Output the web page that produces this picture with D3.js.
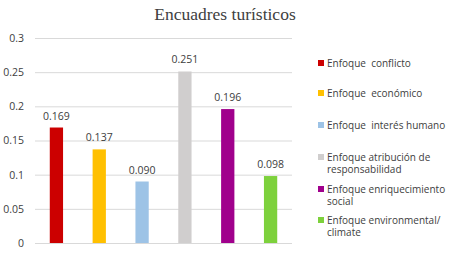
<!DOCTYPE html>
<html><head><meta charset="utf-8">
<script src="https://cdn.jsdelivr.net/npm/d3@7/dist/d3.min.js"></script>
<style>body{margin:0;background:#fff}svg{display:block}</style>
</head><body>
<svg id="c" width="449" height="255"></svg>
<script>
const categories = ["Enfoque  conflicto","Enfoque  económico","Enfoque  interés humano","Enfoque atribución de responsabilidad","Enfoque enriquecimiento social","Enfoque environmental/ climate"];
const legendLines = [["Enfoque  conflicto"],["Enfoque  económico"],["Enfoque  interés humano"],["Enfoque atribución de","responsabilidad"],["Enfoque enriquecimiento","social"],["Enfoque environmental/","climate"]];
const values = [0.169,0.137,0.090,0.251,0.196,0.098];
const valueLabels = ["0.169","0.137","0.090","0.251","0.196","0.098"];
const colors = ["#cc0000","#ffc000","#9dc3e6","#d0cece","#a0008c","#7dd13c"];
const yTicks = [0,0.05,0.1,0.15,0.2,0.25,0.3];
const yTickLabels = ["0","0.05","0.1","0.15","0.2","0.25","0.3"];

const svg = d3.select("#c");
const font = "'Open Sans', 'Liberation Sans', sans-serif";
const x = d3.scaleBand().domain(categories).range([35,292]).paddingInner(0.69).paddingOuter(0.345);
const y = d3.scaleLinear().domain([0,0.3]).range([243,38]);

svg.append("text").attr("x",225).attr("y",20).attr("text-anchor","middle")
  .attr("font-family","'Liberation Serif', 'DejaVu Serif', serif").attr("font-size",17.5).attr("fill","#404040")
  .text("Encuadres turísticos");

const g = svg.append("g").attr("transform","translate(35,0)");
const axis = d3.axisLeft(y).tickValues(yTicks).tickFormat((d,i)=>yTickLabels[i]).tickSize(-257).tickPadding(11);
g.call(axis);
g.select(".domain").remove();
g.selectAll(".tick line").attr("stroke","#d9d9d9").attr("stroke-width",1);
g.selectAll(".tick text").attr("font-family",font).attr("font-size",10.5).attr("fill","#404040");

svg.selectAll("rect.bar").data(values).enter().append("rect").attr("class","bar")
  .attr("x",(d,i)=>x(categories[i])).attr("width",x.bandwidth())
  .attr("y",d=>y(d)).attr("height",d=>y(0)-y(d)).attr("fill",(d,i)=>colors[i]);

svg.selectAll("text.vl").data(values).enter().append("text").attr("class","vl")
  .attr("x",(d,i)=>x(categories[i])+x.bandwidth()/2).attr("y",d=>y(d)-8)
  .attr("text-anchor","middle").attr("font-family",font).attr("font-size",10.5).attr("fill","#404040")
  .text((d,i)=>valueLabels[i]);

const legY = [63,93,125,157,189,220];
const lg = svg.append("g");
legendLines.forEach((lines,i)=>{
  lg.append("rect").attr("x",318).attr("y",legY[i]-3).attr("width",6).attr("height",6).attr("fill",colors[i]);
  lines.forEach((t,j)=>{
    lg.append("text").attr("x",327).attr("y",legY[i]+3.5+j*12.5).attr("font-family",font).attr("font-size",10)
      .attr("fill","#404040").style("white-space","pre").text(t);
  });
});
</script>
</body></html>
